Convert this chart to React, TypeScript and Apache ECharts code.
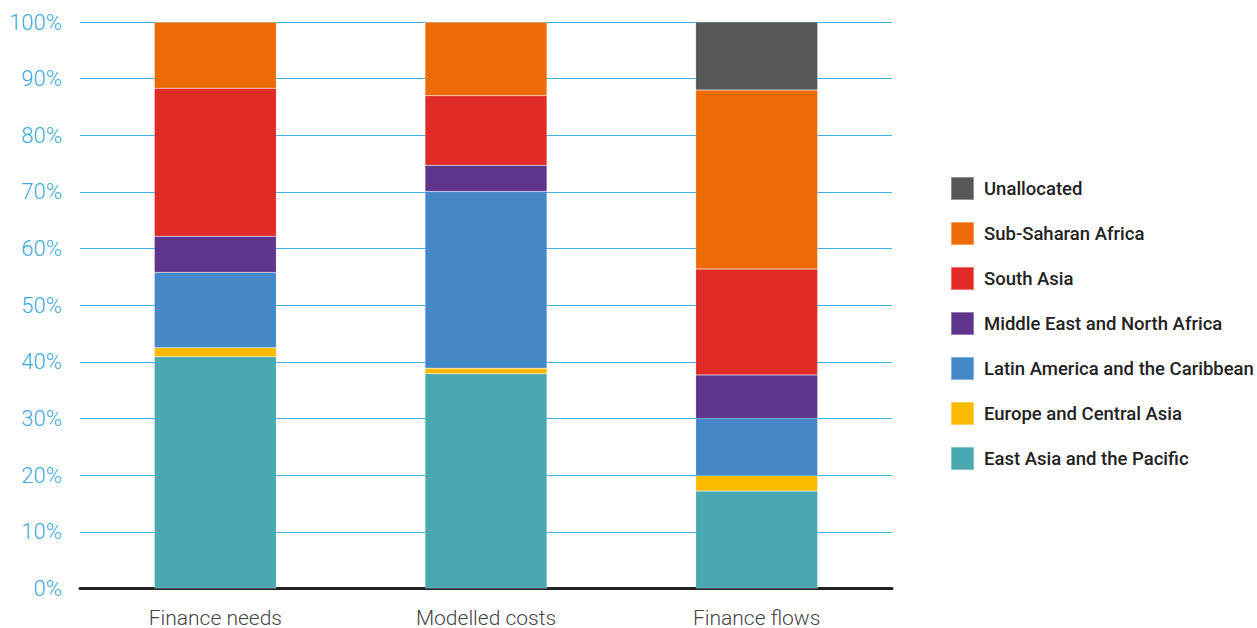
import React, { useEffect, useRef } from "react";
import * as echarts from "echarts";

const categories = ["Finance needs", "Modelled costs", "Finance flows"];
const seriesNames = [
  "East Asia and the Pacific",
  "Europe and Central Asia",
  "Latin America and the Caribbean",
  "Middle East and North Africa",
  "South Asia",
  "Sub-Saharan Africa",
  "Unallocated",
];
const eastAsia = [40.9, 37.9, 17.2];
const europe = [1.6, 1.0, 2.7];
const latam = [13.3, 31.2, 10.1];
const mena = [6.4, 4.6, 7.7];
const southAsia = [26.1, 12.3, 18.7];
const ssa = [11.7, 13.0, 31.6];
const unallocated = [0, 0, 12.0];
const colors = ["#4aa8b0", "#fbb900", "#4488c8", "#5e358a", "#e02b26", "#ec6b07", "#575756"];
const yTicks = [0, 10, 20, 30, 40, 50, 60, 70, 80, 90, 100];

export default function App() {
  const ref = useRef<HTMLDivElement>(null);
  useEffect(() => {
    if (!ref.current) return;
    const chart = echarts.init(ref.current, null, { renderer: "svg" });
    const data = [eastAsia, europe, latam, mena, southAsia, ssa, unallocated];
    chart.setOption({
      animation: false,
      textStyle: { fontFamily: "Roboto" },
      grid: { left: 80, right: 365, top: 22, bottom: 33, containLabel: false },
      legend: {
        orient: "vertical",
        left: 950,
        top: 176,
        padding: 0,
        itemWidth: 23,
        itemHeight: 23,
        itemGap: 20,
        icon: "rect",
        data: seriesNames.slice().reverse(),
        textStyle: {
          fontSize: 18.5,
          lineHeight: 23,
          fontWeight: 500,
          color: "#222",
          fontFamily: "Roboto",
          padding: [0, 0, 0, 5],
        },
      },
      xAxis: {
        type: "category",
        data: categories,
        axisLine: { show: true, lineStyle: { color: "#222", width: 3 } },
        axisTick: { show: false },
        axisLabel: {
          fontSize: 21,
          lineHeight: 18,
          color: "#444",
          fontWeight: 300,
          margin: 20,
          fontFamily: "Roboto",
        },
      },
      yAxis: {
        type: "value",
        min: yTicks[0],
        max: yTicks[yTicks.length - 1],
        interval: 10,
        axisLine: { show: false },
        axisTick: { show: false },
        splitLine: { lineStyle: { color: "#3db3e3", width: 1 } },
        axisLabel: {
          fontSize: 22,
          color: "#3aa9dc",
          fontWeight: 300,
          margin: 18,
          fontFamily: "Roboto",
          formatter: (v: number) => v + "%",
        },
      },
      series: seriesNames.map((name, i) => ({
        name,
        type: "bar",
        stack: "total",
        barWidth: 122,
        data: data[i],
        itemStyle: { color: colors[i], borderColor: "rgba(255,255,255,0.35)", borderWidth: 0.5 },
      })),
    });
    return () => chart.dispose();
  }, []);
  return (
    <div
      ref={ref}
      style={{ position: "fixed", left: 0, top: 0, width: 1257, height: 628, background: "#fff" }}
    />
  );
}
